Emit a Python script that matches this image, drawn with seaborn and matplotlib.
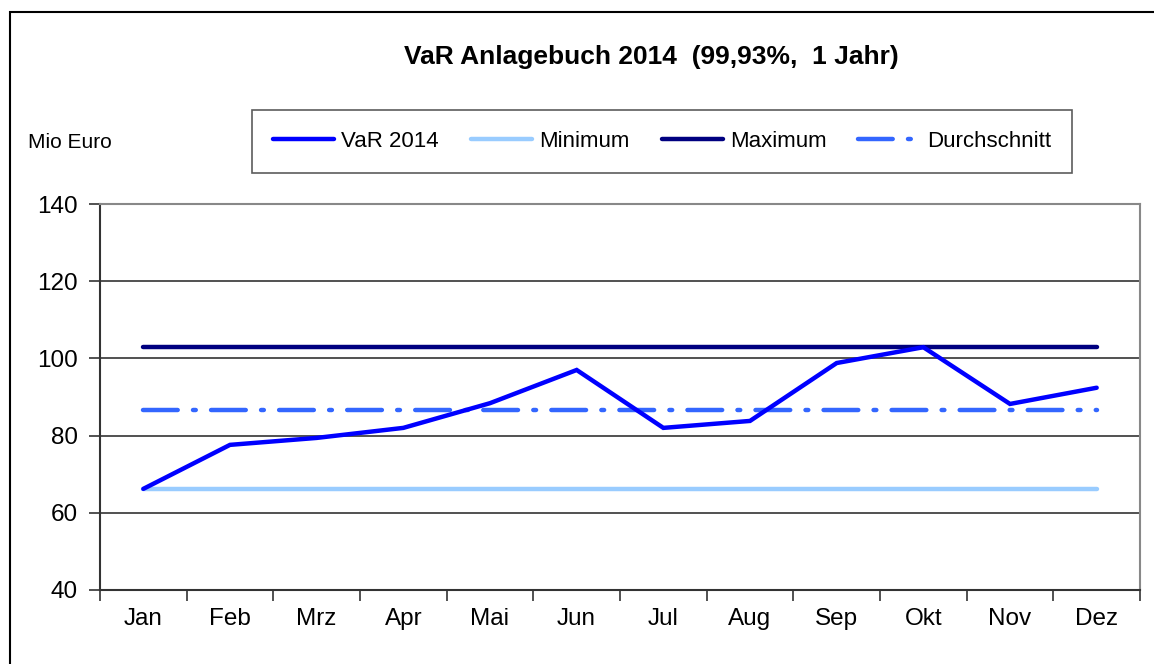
import numpy as np
import pandas as pd
import matplotlib
matplotlib.use("Agg")
import matplotlib.pyplot as plt
from matplotlib.patches import Rectangle
from matplotlib.lines import Line2D
import seaborn as sns

# Daten (Mio Euro)
monate = ["Jan", "Feb", "Mrz", "Apr", "Mai", "Jun", "Jul", "Aug", "Sep", "Okt", "Nov", "Dez"]
var_2014 = [66.2, 77.6, 79.4, 82.0, 88.4, 97.0, 82.0, 83.8, 98.8, 102.9, 88.2, 92.4]
y_ticks = [40, 60, 80, 100, 120, 140]

df = pd.DataFrame({"Monat": monate, "VaR 2014": var_2014})
df["Minimum"] = min(var_2014)
df["Maximum"] = max(var_2014)
df["Durchschnitt"] = np.mean(var_2014)
df["pos"] = np.arange(len(monate))

sns.set_theme(style="white")
plt.rcParams["font.family"] = ["Liberation Sans", "DejaVu Sans"]
plt.rcParams["lines.scale_dashes"] = False
plt.rcParams["text.color"] = "black"
plt.rcParams["xtick.color"] = "black"
plt.rcParams["ytick.color"] = "black"

fig = plt.figure(figsize=(11.54, 6.64), dpi=100)
ax = fig.add_axes([100 / 1154, 74 / 664, 1040 / 1154, 386 / 664])

farben = {"VaR 2014": "#0000FF", "Minimum": "#99CCFF",
          "Maximum": "#000080", "Durchschnitt": "#3366FF"}
strich = (0, (25, 11, 2, 11))

# horizontale Gitterlinien
for y in y_ticks[1:-1]:
    ax.axhline(y, color="#222222", lw=1.1, zorder=1)

sns.lineplot(data=df, x="pos", y="Minimum", ax=ax, color=farben["Minimum"], lw=3.2,
             solid_capstyle="round", zorder=3)
sns.lineplot(data=df, x="pos", y="Durchschnitt", ax=ax, color=farben["Durchschnitt"], lw=3.2,
             linestyle=strich, dash_capstyle="round", zorder=3)
sns.lineplot(data=df, x="pos", y="Maximum", ax=ax, color=farben["Maximum"], lw=3.2,
             solid_capstyle="round", zorder=3)
sns.lineplot(data=df, x="pos", y="VaR 2014", ax=ax, color=farben["VaR 2014"], lw=3.2,
             solid_capstyle="round", solid_joinstyle="miter", zorder=4)

ax.set_xlim(-0.5, len(monate) - 0.5)
ax.set_ylim(40, 140)
ax.set_xlabel("")
ax.set_ylabel("")

ax.set_xticks(df["pos"])
ax.set_xticklabels(monate, fontsize=17.5)
ax.set_xticks(np.arange(-0.5, len(monate)), minor=True)
ax.tick_params(axis="x", which="major", length=0, pad=13)
ax.tick_params(axis="x", which="minor", length=8, width=1.2, direction="out",
               color="#333333", bottom=True)
ax.set_yticks(y_ticks)
ax.set_yticklabels([str(v) for v in y_ticks], fontsize=17.5)
ax.tick_params(axis="y", length=8, width=1.2, direction="out", color="#333333",
               left=True, pad=8)

for s in ["left", "bottom"]:
    ax.spines[s].set_color("#333333")
    ax.spines[s].set_linewidth(1.5)
for s in ["top", "right"]:
    ax.spines[s].set_color("#888888")
    ax.spines[s].set_linewidth(1.5)

# Titel und Einheit
fig.text(651 / 1154, 1 - 57 / 664, "VaR Anlagebuch 2014  (99,93%,  1 Jahr)",
         ha="center", va="center", fontsize=19, fontweight="bold")
fig.text(28 / 1154, 1 - 143 / 664, "Mio Euro", ha="left", va="center", fontsize=15)

# Legende
handles = [
    Line2D([], [], color=farben["VaR 2014"], lw=3.2, solid_capstyle="round"),
    Line2D([], [], color=farben["Minimum"], lw=3.2, solid_capstyle="round"),
    Line2D([], [], color=farben["Maximum"], lw=3.2, solid_capstyle="round"),
    Line2D([], [], color=farben["Durchschnitt"], lw=3.2, linestyle=strich,
           dash_capstyle="round"),
]
leg = fig.legend(handles, ["VaR 2014", "Minimum", "Maximum", "Durchschnitt"],
                 ncol=4, loc="center",
                 bbox_to_anchor=(662 / 1154, 1 - 141.5 / 664),
                 fontsize=16, frameon=True, fancybox=False,
                 borderpad=0.95, handlelength=2.75, handletextpad=0.32,
                 borderaxespad=0, columnspacing=1.44)
leg.get_frame().set_edgecolor("#333333")
leg.get_frame().set_linewidth(1.2)

# Rahmen um das Diagramm
fig.patches.append(Rectangle((10 / 1154, -0.1), 1.2, 1 - 12 / 664 + 0.1,
                             transform=fig.transFigure, fill=False,
                             edgecolor="black", lw=1.5, clip_on=False))

fig.savefig("out.png", dpi=100)
